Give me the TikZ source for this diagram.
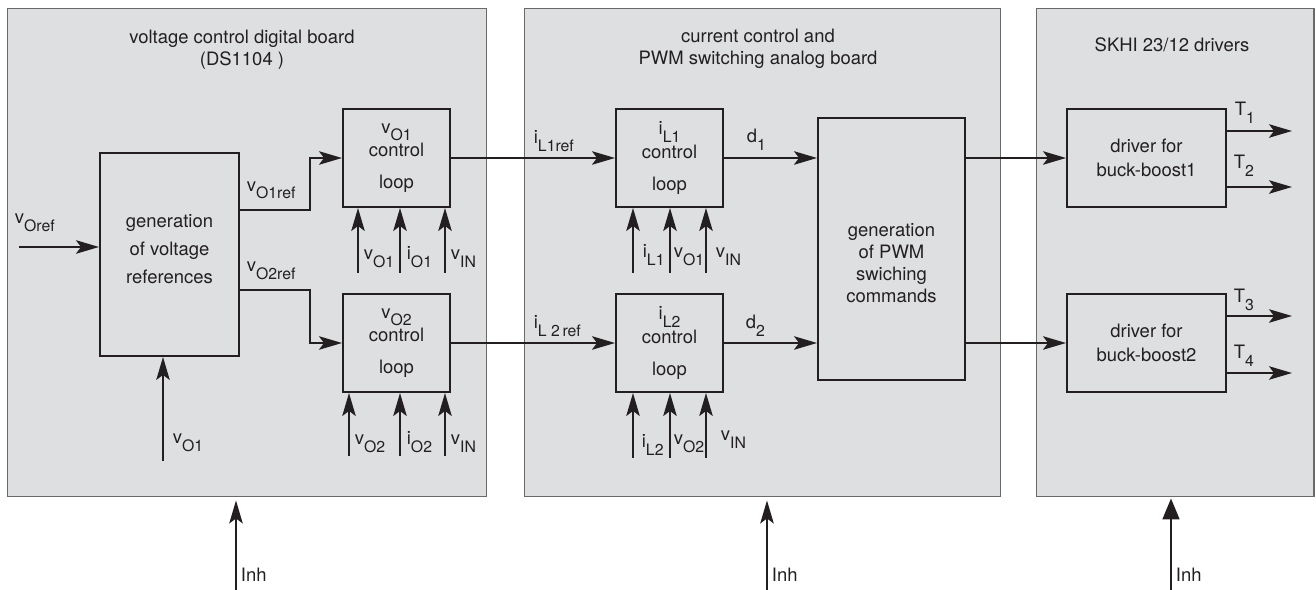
\documentclass[tikz,border=0pt]{standalone}
\usepackage{fontspec}
\setmainfont{TeX Gyre Heros}
\usetikzlibrary{positioning, arrows.meta}
\definecolor{boardgray}{RGB}{222,223,225}
\definecolor{inkline}{RGB}{35,31,32}
\definecolor{boardedge}{RGB}{105,105,105}
\newcommand{\blkfont}{\fontsize{10.5}{12.5}\selectfont}
\newcommand{\varsub}[2]{#1\raisebox{-0.8ex}{\fontsize{9}{10}\selectfont #2}}
\tikzset{
  boardbox/.style={draw=boardedge, line width=0.6pt, fill=boardgray, inner sep=0pt,
    minimum height=9.78cm},
  boardtitle/.style={align=center, font=\blkfont, text=inkline},
  blockbox/.style={draw=inkline, line width=1.15pt, fill=boardgray, align=center, font=\blkfont,
    text=inkline, inner sep=1pt, minimum width=2.14cm, minimum height=1.96cm},
  sigline/.style={draw=inkline, line width=1pt, -{Stealth[length=0.46cm, width=0.27cm, inset=0.1cm]}},
  inhline/.style={draw=inkline, line width=1pt, shorten >=0.06cm,
    -{Stealth[length=0.46cm, width=0.27cm, inset=0.1cm]}},
  inhbig/.style={draw=inkline, line width=1pt, shorten >=0.02cm,
    -{Triangle[length=0.42cm, width=0.34cm]}},
  siglabel/.style={anchor=base west, inner sep=0pt, font=\blkfont, text=inkline}
}

\begin{document}
\begin{tikzpicture}[x=0.02cm, y=-0.02cm]
  \useasboundingbox (0,0) rectangle (1316,590);
  % boards
  \node[boardbox, minimum width=9.6cm] (b1) at (247,252.5) {};
  \node[boardbox, minimum width=9.54cm] (b2) at (762.5,252.5) {};
  \node[boardbox, minimum width=5.56cm] (b3) at (1175,252.5) {};
  \node[boardtitle] (t1) at (242,50) {voltage control digital board\\(DS1104 )};
  \node[boardtitle] (t2) at (758,48.5) {current control and\\PWM switching analog board};
  \node[boardtitle] (t3) at (1172,45) {SKHI 23/12 drivers};
  % blocks
  \node[blockbox, minimum width=2.78cm, minimum height=4.06cm] (gen) at (169.5,254.5)
    {generation\\[3.5pt]of voltage\\[3.5pt]references\\[-6pt]\mbox{}};
  \node[blockbox] (loop1) at (396.5,158) {\varsub{v}{O1}\\[1pt]control\\[5.5pt]loop};
  \node[blockbox] (loop2) at (396.5,343) {\varsub{v}{O2}\\[1pt]control\\[5.5pt]loop};
  \node[blockbox] (il1) at (669.5,158) {\varsub{i}{L1}\\[1pt]control\\[5.5pt]loop};
  \node[blockbox] (il2) at (669.5,343) {\varsub{i}{L2}\\[1pt]control\\[5.5pt]loop};
  \node[blockbox, minimum width=2.94cm, minimum height=5.24cm] (pwm) at (891.5,249) {};
  \node[boardtitle] (pwmtext) at (891.5,263) {generation\\of PWM\\swiching\\commands};
  \node[blockbox, minimum width=3.18cm] (drv1) at (1146.5,158) {driver for\\[1pt]buck-boost1};
  \node[blockbox, minimum width=3.18cm] (drv2) at (1146.5,343) {driver for\\[1pt]buck-boost2};
  % free ends
  \coordinate (vref) at (19,247);
  \coordinate (fb) at (163,461);
  \coordinate (a11) at (358,273); \coordinate (a12) at (400,273); \coordinate (a13) at (445,273);
  \coordinate (a21) at (349,456); \coordinate (a22) at (400,456); \coordinate (a23) at (445,456);
  \coordinate (c11) at (633,273); \coordinate (c12) at (670,273); \coordinate (c13) at (706,273);
  \coordinate (c21) at (633,458); \coordinate (c22) at (670,458); \coordinate (c23) at (706,458);
  \coordinate (T1) at (1292,131); \coordinate (T2) at (1292,187);
  \coordinate (T3) at (1292,316); \coordinate (T4) at (1292,373);
  \coordinate (inh1) at (236,590); \coordinate (inh2) at (767,590); \coordinate (inh3) at (1171,590);
  % voltage board
  \draw[sigline] (vref) -- (vref -| gen.west)
    node[siglabel, pos=0, xshift=-0.1cm, yshift=0.46cm] {\varsub{v}{Oref}};
  \draw[sigline] (fb) -- (fb |- gen.south)
    node[siglabel, pos=0, xshift=0.18cm, yshift=0.34cm] {\varsub{v}{O1}};
  \draw[sigline] ([yshift=0.89cm]gen.east) -- ++(70,0)
    node[siglabel, pos=0, xshift=0.12cm, yshift=0.38cm] {\varsub{v}{O1ref}} |- (loop1.west);
  \draw[sigline] ([yshift=-0.71cm]gen.east) -- ++(70,0)
    node[siglabel, pos=0, xshift=0.12cm, yshift=0.36cm] {\varsub{v}{O2ref}} |- (loop2.west);
  \draw[sigline] (a11) -- (a11 |- loop1.south) node[siglabel, pos=0, xshift=0.1cm, yshift=0.26cm] {\varsub{v}{O1}};
  \draw[sigline] (a12) -- (a12 |- loop1.south) node[siglabel, pos=0, xshift=0.12cm, yshift=0.26cm] {\varsub{i}{O1}};
  \draw[sigline] (a13) -- (a13 |- loop1.south) node[siglabel, pos=0, xshift=0.1cm, yshift=0.26cm] {\varsub{v}{IN}};
  \draw[sigline] (a21) -- (a21 |- loop2.south) node[siglabel, pos=0, xshift=0.1cm, yshift=0.22cm] {\varsub{v}{O2}};
  \draw[sigline] (a22) -- (a22 |- loop2.south) node[siglabel, pos=0, xshift=0.12cm, yshift=0.22cm] {\varsub{i}{O2}};
  \draw[sigline] (a23) -- (a23 |- loop2.south) node[siglabel, pos=0, xshift=0.1cm, yshift=0.22cm] {\varsub{v}{IN}};
  % current board
  \draw[sigline] (loop1.east) -- (il1.west) node[siglabel, pos=0.5, yshift=0.28cm] {\varsub{i}{L1ref}};
  \draw[sigline] (loop2.east) -- (il2.west) node[siglabel, pos=0.5, yshift=0.28cm] {\varsub{i}{L 2\,ref}};
  \draw[sigline] (c11) -- (c11 |- il1.south) node[siglabel, pos=0, xshift=0.18cm, yshift=0.3cm] {\varsub{i}{L1}};
  \draw[sigline] (c12) -- (c12 |- il1.south) node[siglabel, pos=0, xshift=0.06cm, yshift=0.3cm] {\varsub{v}{O1}};
  \draw[sigline] (c13) -- (c13 |- il1.south) node[siglabel, pos=0, xshift=0.18cm, yshift=0.3cm] {\varsub{v}{IN}};
  \draw[sigline] (c21) -- (c21 |- il2.south) node[siglabel, pos=0, xshift=0.16cm, yshift=0.2cm] {\varsub{i}{L2}};
  \draw[sigline] (c22) -- (c22 |- il2.south) node[siglabel, pos=0, xshift=0.06cm, yshift=0.26cm] {\varsub{v}{O2}};
  \draw[sigline] (c23) -- (c23 |- il2.south) node[siglabel, pos=0, xshift=0.28cm, yshift=0.34cm] {\varsub{v}{IN}};
  \draw[sigline] (il1.east) -- (il1.east -| pwm.west) node[siglabel, pos=0, xshift=0.44cm, yshift=0.3cm] {\varsub{d}{1}};
  \draw[sigline] (il2.east) -- (il2.east -| pwm.west) node[siglabel, pos=0, xshift=0.42cm, yshift=0.28cm] {\varsub{d}{2}};
  % drivers
  \draw[sigline] (pwm.east |- drv1.west) -- (drv1.west);
  \draw[sigline] (pwm.east |- drv2.west) -- (drv2.west);
  \draw[sigline] (drv1.east |- T1) -- (T1) node[siglabel, pos=0, xshift=0.14cm, yshift=0.3cm] {\varsub{T}{1}};
  \draw[sigline] (drv1.east |- T2) -- (T2) node[siglabel, pos=0, xshift=0.12cm, yshift=0.36cm] {\varsub{T}{2}};
  \draw[sigline] (drv2.east |- T3) -- (T3) node[siglabel, pos=0, xshift=0.12cm, yshift=0.26cm] {\varsub{T}{3}};
  \draw[sigline] (drv2.east |- T4) -- (T4) node[siglabel, pos=0, xshift=0.12cm, yshift=0.28cm] {\varsub{T}{4}};
  % inhibit inputs
  \draw[inhline] (inh1) -- (inh1 |- b1.south) node[siglabel, pos=0, xshift=0.08cm, yshift=0.16cm] {Inh};
  \draw[inhline] (inh2) -- (inh2 |- b2.south) node[siglabel, pos=0, xshift=0.08cm, yshift=0.16cm] {Inh};
  \draw[inhbig] (inh3) -- (inh3 |- b3.south) node[siglabel, pos=0, xshift=0.08cm, yshift=0.16cm] {Inh};
\end{tikzpicture}
\end{document}
